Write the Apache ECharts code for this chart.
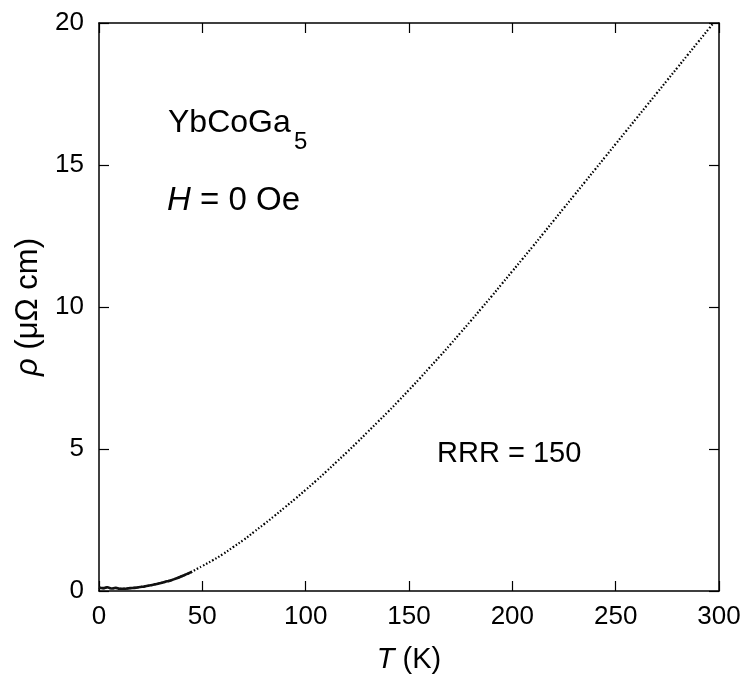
<!DOCTYPE html>
<html>
<head>
<meta charset="utf-8">
<script src="https://cdn.jsdelivr.net/npm/echarts@6/dist/echarts.min.js"></script>
<style>html,body{margin:0;padding:0;background:#fff;}#c{width:745px;height:685px;}</style>
</head>
<body>
<div id="c"></div>
<script>
const temperatureK = [0,2,4,6,8,10,12,15,18,20,22,25,28,30,33,35,38,40,43,45,48,50,55,60,65,70,75,80,85,90,95,100,105,110,115,120,125,130,135,140,145,150,155,160,165,170,175,180,185,190,195,200,205,210,215,220,225,230,235,240,245,250,255,260,265,270,275,280,285,290,295,297];
const resistivity = [0.12,0.10,0.13,0.09,0.11,0.08,0.08,0.10,0.12,0.14,0.16,0.20,0.25,0.28,0.34,0.38,0.46,0.52,0.61,0.68,0.80,0.88,1.08,1.30,1.55,1.80,2.08,2.36,2.65,2.95,3.25,3.56,3.88,4.21,4.55,4.89,5.24,5.60,5.96,6.32,6.70,7.08,7.47,7.87,8.27,8.68,9.10,9.52,9.95,10.38,10.82,11.26,11.70,12.14,12.59,13.04,13.49,13.94,14.39,14.84,15.29,15.74,16.19,16.64,17.09,17.54,17.99,18.44,18.89,19.34,19.79,19.97];
const xTicks = [0,50,100,150,200,250,300];
const yTicks = [0,5,10,15,20];
const denseRegionMaxT = 45;

const FONT = "'Liberation Sans', Arial, sans-serif";
const chart = echarts.init(document.getElementById('c'), null, {renderer:'canvas'});
const seriesData = temperatureK.map((t,i)=>[t,resistivity[i]]);
const lowTData = seriesData.filter(p=>p[0]<=denseRegionMaxT);
function common(){
  return {
    axisLine:{show:true, onZero:false, lineStyle:{color:'#000', width:1.5}},
    axisTick:{show:true, inside:true, length:10, lineStyle:{color:'#000', width:1.2}},
    splitLine:{show:false}
  };
}
chart.setOption({
  animation:false,
  backgroundColor:'#fff',
  grid:{left:99, right:26, top:23, bottom:94, containLabel:false},
  xAxis:[
    Object.assign({type:'value', position:'bottom', min:xTicks[0], max:xTicks[xTicks.length-1], interval:50,
      name:'{i|T} (K)', nameLocation:'middle', nameGap:54,
      nameTextStyle:{fontFamily:FONT, fontSize:29, color:'#000', rich:{i:{fontStyle:'italic', fontFamily:FONT, fontSize:29, color:'#000'}}},
      axisLabel:{fontFamily:FONT, fontSize:26, color:'#000', margin:13}}, common()),
    Object.assign({type:'value', position:'top', min:xTicks[0], max:xTicks[xTicks.length-1], interval:50,
      axisLabel:{show:false}}, common())
  ],
  yAxis:[
    Object.assign({type:'value', position:'left', min:yTicks[0], max:yTicks[yTicks.length-1], interval:5,
      name:'{i|ρ} (μΩ cm)', nameLocation:'middle', nameGap:52,
      nameTextStyle:{fontFamily:FONT, fontSize:31, color:'#000', rich:{i:{fontStyle:'italic', fontFamily:FONT, fontSize:31, color:'#000'}}},
      axisLabel:{fontFamily:FONT, fontSize:26, color:'#000', margin:15}}, common()),
    Object.assign({type:'value', position:'right', min:yTicks[0], max:yTicks[yTicks.length-1], interval:5,
      axisLabel:{show:false}}, common())
  ],
  series:[{
    type:'line', data:seriesData, xAxisIndex:0, yAxisIndex:0,
    showSymbol:false, smooth:true,
    lineStyle:{color:'#000', width:2.2, type:[1.5,2]}
  },{
    type:'line', data:lowTData, xAxisIndex:0, yAxisIndex:0,
    showSymbol:false, smooth:true,
    lineStyle:{color:'#111', width:2.6}
  }],
  graphic:[
    {type:'text', left:168, top:107, style:{text:'YbCoGa', font:'32px '+FONT, fill:'#000'}},
    {type:'text', left:294, top:130, style:{text:'5', font:'24px '+FONT, fill:'#000'}},
    {type:'text', left:167, top:184, style:{text:'{i|H} = 0 Oe', font:'33px '+FONT, fill:'#000',
      rich:{i:{fontStyle:'italic', fontFamily:FONT, fontSize:33, fill:'#000'}}}},
    {type:'text', left:437, top:439, style:{text:'RRR = 150', font:'29px '+FONT, fill:'#000'}}
  ]
});
</script>
</body>
</html>
